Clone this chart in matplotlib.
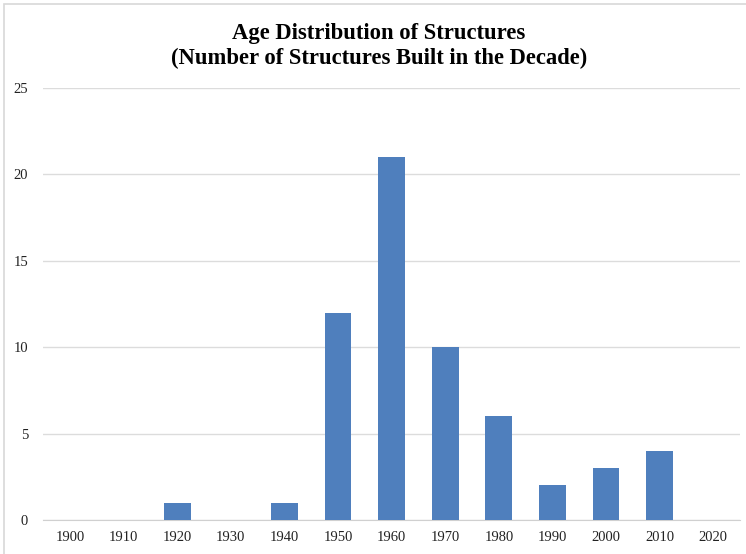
import matplotlib.pyplot as plt
from matplotlib.patches import Rectangle

decades = ['1900', '1910', '1920', '1930', '1940', '1950', '1960',
           '1970', '1980', '1990', '2000', '2010', '2020']
counts = [0, 0, 1, 0, 1, 12, 21, 10, 6, 2, 3, 4, 0]

plt.rcParams['font.family'] = ['Liberation Serif', 'DejaVu Serif']

fig = plt.figure(figsize=(7.46, 5.54), dpi=100)
ax = fig.add_axes([0.058, 0.0614, 0.934, 0.7796])

x = range(len(decades))
ax.bar(x, counts, width=0.5, color='#4f7fbd', zorder=3)

ax.set_xlim(-0.5, len(decades) - 0.5)
ax.set_ylim(0, 25)
ax.set_yticks([0, 5, 10, 15, 20, 25])
ax.set_xticks(list(x))
ax.set_xticklabels(decades)
ax.tick_params(axis='both', length=0, labelsize=10.5, colors='#222222')
ax.tick_params(axis='x', pad=8)
ax.tick_params(axis='y', pad=11)

ax.yaxis.grid(True, color='#dcdcdc', linewidth=1)
for s in ['top', 'right', 'left']:
    ax.spines[s].set_visible(False)
ax.spines['bottom'].set_color('#d0d0d0')

fig.suptitle('Age Distribution of Structures\n(Number of Structures Built in the Decade)',
             x=0.508, y=0.958, fontsize=16.3, fontweight='bold', linespacing=1.2)

# light frame along the top and left edges
fig.add_artist(Rectangle((0.006, -0.05), 1.1, 1.043, transform=fig.transFigure,
                         fill=False, edgecolor='#d8d8d8', linewidth=1.2))

fig.savefig('out.png', dpi=100)
